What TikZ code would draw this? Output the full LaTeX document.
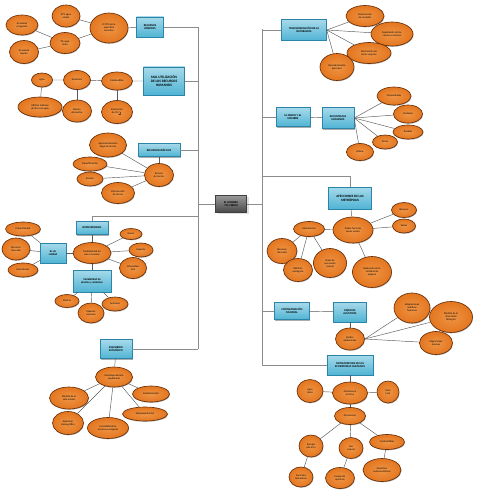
\documentclass[tikz,border=0pt]{standalone}
\usepackage{fontspec}
\setmainfont{Carlito}
\usetikzlibrary{shapes.geometric,shadows}
\definecolor{naranja}{HTML}{E4761F}
\definecolor{naranjaclaro}{HTML}{EE9445}
\definecolor{borde}{HTML}{6A300A}
\definecolor{celeste}{HTML}{4FB4D4}
\definecolor{celesteosc}{HTML}{2A85A8}
\begin{document}
\begin{tikzpicture}[x=1pt, y=-1pt,
  burbuja/.style 2 args={ellipse, draw=borde, line width=0.65pt,
    inner color=naranjaclaro, outer color=naranja,
    minimum width=#1, minimum height=#2, inner sep=0pt, align=center,
    font=\fontsize{2.6}{3}\selectfont,
    drop shadow={shadow xshift=0.5pt, shadow yshift=-0.8pt, opacity=0.6}},
  caja/.style 2 args={rectangle, draw=celesteosc, top color=celeste!50!white,
    bottom color=celeste, minimum width=#1, minimum height=#2, inner sep=0.5pt,
    align=center, font=\fontsize{2.8}{3.2}\selectfont\bfseries,
    drop shadow={shadow xshift=0.6pt, shadow yshift=-1pt, opacity=0.65}},
  centro/.style={rectangle, draw=black!75, top color=black!40, bottom color=black!72,
    minimum width=31, minimum height=17, inner sep=0.5pt, align=center,
    font=\fontsize{2.8}{3.2}\selectfont\bfseries,
    drop shadow={shadow xshift=2.5pt, shadow yshift=-1.5pt, opacity=0.25}},
  enlace/.style={draw=black!65, line width=0.45pt},
  tronco/.style={draw=black!45, line width=0.7pt}]
  \path[fill=white, use as bounding box] (0,0) rectangle (495,495);

  % troncos
  \coordinate (tI1) at (198,27);
  \coordinate (tI5) at (198,349);
  \coordinate (tD1) at (262,29);
  \coordinate (tD5) at (262,365);
  \coordinate (bioT) at (198,216);
  \coordinate (afT) at (262,176);
  \draw[tronco] (tI1) -- (tI5);
  \draw[tronco] (tD1) -- (tD5);

  \node[centro] (hm0) at (231,204) {EL HOMBRE\\Y EL MEDIO};
  \draw[tronco] (hm0.west) -- (hm0.west -| tI1);
  \draw[tronco] (hm0.east) -- (hm0.east -| tD1);

  % recursos hidricos
  \node[caja={27}{20}] (rh) at (150,27) {RECURSOS\\HÍDRICOS};
  \node[burbuja={38}{30}] (s70) at (109,28) {El 70\% de la\\superficie\\terrestre};
  \node[burbuja={28}{22}] (salada) at (66,16) {97\% agua\\salada};
  \node[burbuja={30}{21}] (dulce) at (65,43) {3\% agua\\dulce};
  \node[burbuja={32}{20}] (congel) at (22,25) {En estado\\congelado};
  \node[burbuja={29}{23}] (liquid) at (24,52) {En estado\\líquido};
  \draw[tronco] (rh) -- (rh -| tI1);
  \draw[enlace] (rh) -- (s70);
  \foreach \h in {salada,dulce} \draw[enlace] (s70) -- (\h);
  \foreach \h in {congel,liquid} \draw[enlace] (dulce) -- (\h);

  % mal utilizacion
  \node[caja={41}{28}, font=\fontsize{3.5}{4.2}\selectfont\bfseries] (mal) at (164,81)
    {MAL UTILIZACIÓN\\DE LOS RECURSOS\\HUMANOS};
  \node[burbuja={21}{14}] (agua) at (42,80) {Agua};
  \node[burbuja={27}{19}] (desech) at (77,80) {Desechos};
  \node[burbuja={31}{18}] (combus) at (117,81) {Combustible};
  \node[burbuja={44}{20}] (litros) at (40,107) {Utilizan millones\\de litros de agua};
  \node[burbuja={29}{22}] (basura) at (77,111) {Basura\\doméstica};
  \node[burbuja={31}{23}] (co2) at (117,112) {Producción\\de CO$_2$};
  \draw[tronco] (mal) -- (mal -| tI1);
  \draw[enlace] (agua) -- (desech) -- (combus) -- (mal);
  \draw[enlace] (agua) -- (litros);
  \draw[enlace] (desech) -- (basura);
  \draw[enlace] (combus) -- (co2);

  % recursos edaficos
  \node[caja={42}{13}] (re) at (159,150) {RECURSOS EDÁFICOS};
  \node[burbuja={29}{23}] (escasez) at (159,175) {Escasez\\de tierras};
  \node[burbuja={37}{24}] (aprov) at (108,145) {Aprovechamiento\\ilegal de tierras};
  \node[burbuja={34}{14}] (desert) at (90,164) {Desertificación};
  \node[burbuja={26}{14}] (erosion) at (90,179) {Erosión};
  \node[burbuja={33}{21}] (dismin) at (118,193) {Disminución\\de tierras};
  \draw[tronco] (re) -- (re -| tI1);
  \draw[enlace] (re) -- (escasez);
  \foreach \h in {aprov,desert,erosion,dismin} \draw[enlace] (escasez) -- (\h);

  % biodiversidad
  \node[caja={32}{13}] (bio) at (92,228) {BIODIVERSIDAD};
  \node[caja={26}{20}] (calidad) at (53,253) {Es de\\calidad};
  \node[burbuja={38}{21}] (multi) at (92,253) {Multiplicidad de\\seres vivientes};
  \node[burbuja={35}{14}] (prod) at (23,229) {Productividad};
  \node[burbuja={28}{22}] (recnat) at (16,249) {Recursos\\naturales};
  \node[burbuja={30}{14}] (ecosis) at (23,270) {Ecosistemas};
  \node[burbuja={22}{11}] (genes) at (131,234) {Genes};
  \node[burbuja={24}{14}] (especies) at (141,250) {Especies};
  \node[burbuja={27}{21}] (divers) at (133,268) {Diversidad\\vital};
  \node[caja={38}{22}] (var) at (92,281) {Variabilidad de\\plantas y animales};
  \node[burbuja={24}{13}] (plantas) at (67,301) {Plantas};
  \node[burbuja={26}{20}] (espviv) at (91,313) {Especies\\vivientes};
  \node[burbuja={26}{14}] (animales) at (115,304) {Animales};
  \draw[tronco] (bio.north) |- (bioT);
  \draw[enlace] (bio) -- (multi) -- (var);
  \draw[enlace] (calidad) -- (multi);
  \foreach \h in {prod,recnat,ecosis} \draw[enlace] (calidad) -- (\h);
  \foreach \h in {genes,especies,divers} \draw[enlace] (multi) -- (\h);
  \foreach \h in {plantas,espviv,animales} \draw[enlace] (var) -- (\h);

  % equilibrio ecologico
  \node[caja={32}{19}] (eq) at (116,349) {EQUILIBRIO\\ECOLÓGICO};
  \node[burbuja={37}{20}] (inter) at (114,377) {Interdependencia\\equilibrada};
  \node[burbuja={39}{22}] (perd) at (69,398) {Pérdida de la\\vida animal};
  \node[burbuja={31}{23}] (explos) at (68,423) {Explosión\\demográfica};
  \node[burbuja={41}{21}] (inest) at (108,428) {Inestabilidad de\\recursos ecológicos};
  \node[burbuja={37}{16}] (contam) at (151,394) {Contaminación};
  \node[burbuja={45}{14}] (sobre) at (145,414) {Sobreexplotación};
  \draw[tronco] (eq) -- (eq -| tI5);
  \draw[enlace] (eq) -- (inter);
  \foreach \h in {perd,explos,inest,contam,sobre} \draw[enlace] (inter) -- (\h);

  % transformacion de la naturaleza
  \node[caja={45}{21}] (trans) at (304,30) {TRANSFORMACIÓN DE LA\\NATURALEZA};
  \node[burbuja={38}{21}] (constr) at (365,16) {Construcción\\de ciudades};
  \node[burbuja={42}{24}] (explot) at (392,34) {Explotación de los\\recursos mineros};
  \node[burbuja={44}{21}] (destr) at (369,53) {Destrucción de\\zonas vírgenes};
  \node[burbuja={34}{27}] (descub) at (337,67) {Descubrimiento\\petrolero};
  \draw[tronco] (trans) -- (trans -| tD1);
  \foreach \h in {constr,explot,destr,descub} \draw[enlace] (trans.east) -- (\h);

  % el medio y el hombre
  \node[caja={34}{19}] (mh) at (293,117) {EL MEDIO Y EL\\HOMBRE};
  \node[caja={32}{21}] (ecoh) at (338,118) {ECOSISTEMAS\\HUMANOS};
  \node[burbuja={34}{18}] (comun) at (394,96) {Comunidades};
  \node[burbuja={29}{18}] (ciud) at (408,114) {Ciudades};
  \node[burbuja={30}{14}] (pueb) at (408,132) {Pueblos};
  \node[burbuja={25}{14}] (fincas) at (385,142) {Fincas};
  \node[burbuja={27}{17}] (aldeas) at (360,152) {Aldeas};
  \draw[tronco] (mh) -- (mh -| tD1);
  \draw[enlace] (mh) -- (ecoh);
  \foreach \h in {comun,ciud,pueb,fincas,aldeas} \draw[enlace] (ecoh.east) -- (\h);

  % afecciones de las metropolis
  \node[caja={43}{22}, font=\fontsize{3.3}{4}\selectfont\bfseries] (af) at (350,198)
    {AFECCIONES DE LAS\\METRÓPOLIS};
  \node[burbuja={40}{26}] (danos) at (353,230) {Daños hacia las\\zonas verdes};
  \node[burbuja={25}{15}] (bosq) at (404,210) {Bosques};
  \node[burbuja={23}{14}] (selvas) at (404,226) {Selvas};
  \node[burbuja={31}{15}] (urban) at (309,229) {Urbanización};
  \node[burbuja={30}{25}] (recnat2) at (282,251) {Recursos\\naturales};
  \node[burbuja={29}{23}] (habit) at (298,270) {Hábitats\\ecológicos};
  \node[burbuja={33}{29}] (areas) at (330,263) {Áreas de\\recreación\\natural};
  \node[burbuja={39}{31}] (oxig) at (372,272) {Reducción de la\\cantidad de\\oxígeno};
  \draw[tronco] (af.north) |- (afT);
  \draw[enlace] (af) -- (danos);
  \foreach \h in {bosq,selvas,urban,oxig} \draw[enlace] (danos) -- (\h);
  \foreach \h in {recnat2,habit,areas} \draw[enlace] (urban) -- (\h);

  % contaminacion mundial
  \node[caja={35}{17}] (cm) at (292,311) {CONTAMINACIÓN\\MUNDIAL};
  \node[caja={33}{20}] (ea) at (350,312) {ESPACIOS\\ACÚSTICOS};
  \node[burbuja={29}{22}] (ruido) at (350,339) {Ruidos\\ambientales};
  \node[burbuja={36}{30}] (adapt) at (412,308) {Adaptaciones\\auditivas\\humanas};
  \node[burbuja={43}{31}] (perdbio) at (451,317) {Pérdida de la\\diversidad\\biológica};
  \node[burbuja={33}{23}] (migr) at (436,343) {Migraciones\\masivas};
  \draw[tronco] (cm) -- (cm -| tD1);
  \draw[enlace] (cm) -- (ea);
  \draw[enlace] (ea) -- (ruido);
  \foreach \h in {adapt,perdbio,migr} \draw[enlace] (ruido.east) -- (\h);

  % metamorfosis de los ecosistemas humanos
  \node[caja={46}{20}] (meta) at (350,365) {METAMORFOSIS DE LOS\\ECOSISTEMAS HUMANOS};
  \node[burbuja={35}{22}] (clima) at (350,393) {Cambios en\\el clima};
  \node[burbuja={26}{23}] (agua2) at (310,391) {Agua\\dulce};
  \node[burbuja={22}{22}] (calor) at (388,392) {Calor\\(sol)};
  \node[burbuja={31}{17}] (consumo) at (350,416) {El consumo};
  \node[burbuja={24}{22}] (energ) at (311,446) {Energía\\eléctrica};
  \node[burbuja={24}{21}] (gas) at (351,448) {Gas\\natural};
  \node[burbuja={35}{15}] (comb2) at (387,442) {Combustibles};
  \node[burbuja={24}{20}] (centr) at (301,477) {Centrales\\hidráulicas};
  \node[burbuja={29}{21}] (escape) at (340,478) {Escape de\\químicos};
  \node[burbuja={38}{23}] (desauto) at (382,470) {Desechos\\automovilísticos};
  \draw[tronco] (meta) -- (meta -| tD5);
  \draw[enlace] (meta) -- (clima) -- (consumo);
  \foreach \h in {agua2,calor} \draw[enlace] (clima) -- (\h);
  \foreach \h in {energ,gas,comb2} \draw[enlace] (consumo) -- (\h);
  \draw[enlace] (energ) -- (centr);
  \draw[enlace] (gas) -- (escape);
  \draw[enlace] (comb2) -- (desauto);
\end{tikzpicture}
\end{document}
